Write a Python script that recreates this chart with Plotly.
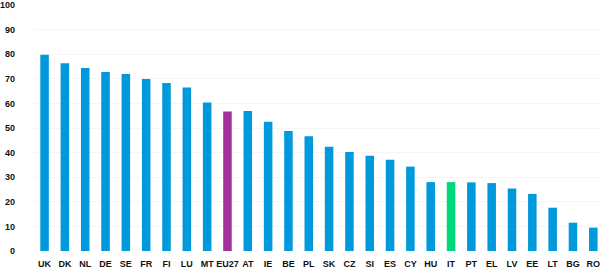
import plotly.graph_objects as go

countries = ["UK", "DK", "NL", "DE", "SE", "FR", "FI", "LU", "MT", "EU27", "AT", "IE", "BE", "PL",
             "SK", "CZ", "SI", "ES", "CY", "HU", "IT", "PT", "EL", "LV", "EE", "LT", "BG", "RO"]
values = [79.8, 76.3, 74.4, 72.8, 72.0, 69.9, 68.3, 66.5, 60.4, 56.7, 56.9, 52.5, 48.8, 46.6,
          42.4, 40.2, 38.7, 37.1, 34.3, 28.0, 28.0, 27.9, 27.6, 25.4, 23.2, 17.6, 11.5, 9.5]
y_ticks = [0, 10, 20, 30, 40, 50, 60, 70, 80, 90, 100]

BLUE = "#0099DC"
PURPLE = "#A1309C"
GREEN = "#00D97A"
colors = [PURPLE if c == "EU27" else GREEN if c == "IT" else BLUE for c in countries]

fig = go.Figure(go.Bar(x=countries, y=values, marker=dict(color=colors, line=dict(width=0)),
                       width=0.42))

fig.update_layout(
    width=600, height=268,
    margin=dict(l=32, r=0, t=5, b=17),
    paper_bgcolor="white", plot_bgcolor="white",
    showlegend=False,
    font=dict(family="Liberation Sans, Arial, sans-serif", size=9, color="#111"),
)
fig.update_xaxes(
    range=[-0.52, 27.33],
    showgrid=False, zeroline=False, showline=False, ticks="",
    tickangle=0, automargin=False,
    tickfont=dict(size=9, color="#111", family="Liberation Sans, Arial, sans-serif", weight="bold"),
    ticklabelstandoff=6,
)
fig.update_yaxes(
    range=[0, 100], tickvals=y_ticks,
    showgrid=True, gridcolor="#f5f5f5", gridwidth=1,
    zeroline=False, showline=False, ticks="",
    tickfont=dict(size=9, color="#111", family="Liberation Sans, Arial, sans-serif", weight="bold"),
    ticklabelstandoff=18,
)

fig.write_html("out.html")
